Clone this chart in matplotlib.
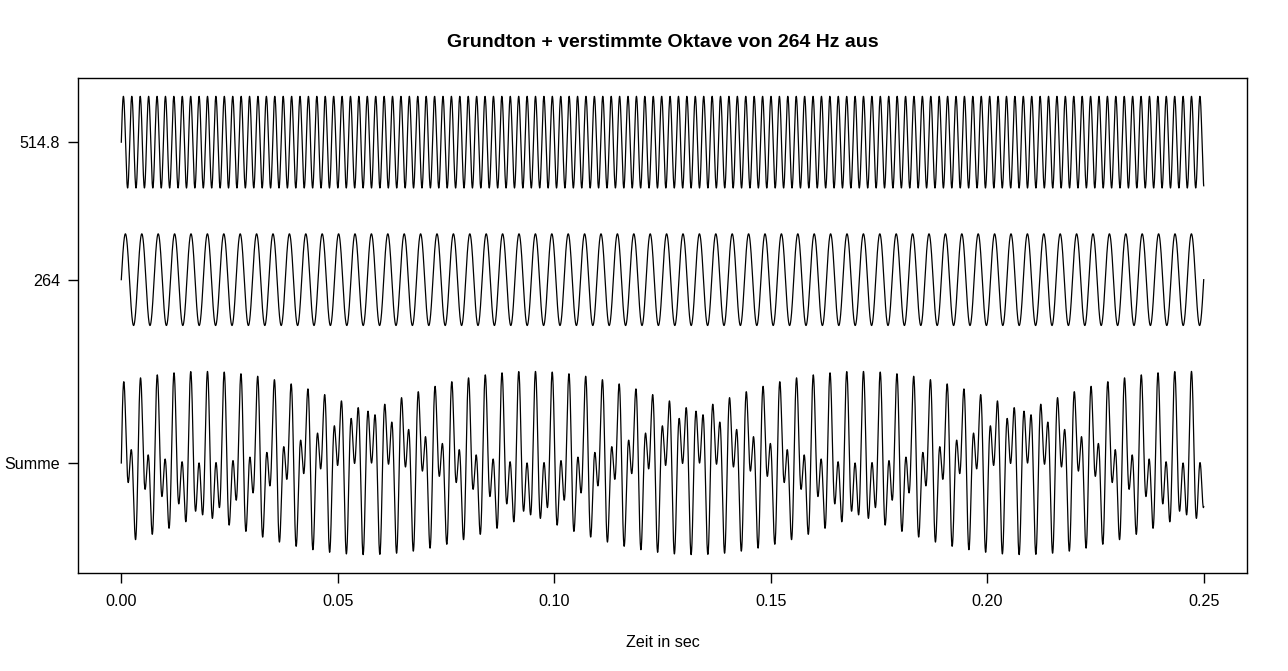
import matplotlib.pyplot as plt
import numpy as np

plt.rcParams['font.family'] = ['Liberation Sans', 'DejaVu Sans']

# data
freqs = [264.0, 514.8]          # Grundton, verstimmte Oktave (Hz)
duration = 0.25                 # sec
n_samples = 12000
offsets = {'Summe': 0.0, '264': 4.0, '514.8': 7.0}
ytick_labels = ['Summe', '264', '514.8']
xticks = [0.00, 0.05, 0.10, 0.15, 0.20, 0.25]

t = np.linspace(0, duration, n_samples)
s1 = np.sin(2 * np.pi * freqs[0] * t)
s2 = np.sin(2 * np.pi * freqs[1] * t)

fig = plt.figure(figsize=(12.88, 6.71), dpi=100)
ax = fig.add_axes([78/1288, 98/671, (1247-78)/1288, (573-78)/671])

ax.plot(t, s2 + offsets['514.8'], color='black', lw=0.9)
ax.plot(t, s1 + offsets['264'], color='black', lw=0.9)
ax.plot(t, s1 + s2 + offsets['Summe'], color='black', lw=0.9)

ax.set_xlim(-0.01, 0.26)
ax.set_ylim(-2.4, 8.4)
ax.set_xticks(xticks)
ax.set_xticklabels(['%.2f' % v for v in xticks])
ax.set_yticks([offsets[k] for k in ytick_labels])
ax.set_yticklabels(ytick_labels)
ax.tick_params(axis='both', labelsize=11.6, length=7, width=1, direction='out', pad=6)
ax.tick_params(axis='x', pad=8)
for sp in ax.spines.values():
    sp.set_linewidth(1)

ax.set_xlabel('Zeit in sec', fontsize=11.6, labelpad=19)
ax.set_title('Grundton + verstimmte Oktave von 264 Hz aus', fontsize=14,
             fontweight='bold', pad=22)

plt.savefig('out.png', dpi=100)
